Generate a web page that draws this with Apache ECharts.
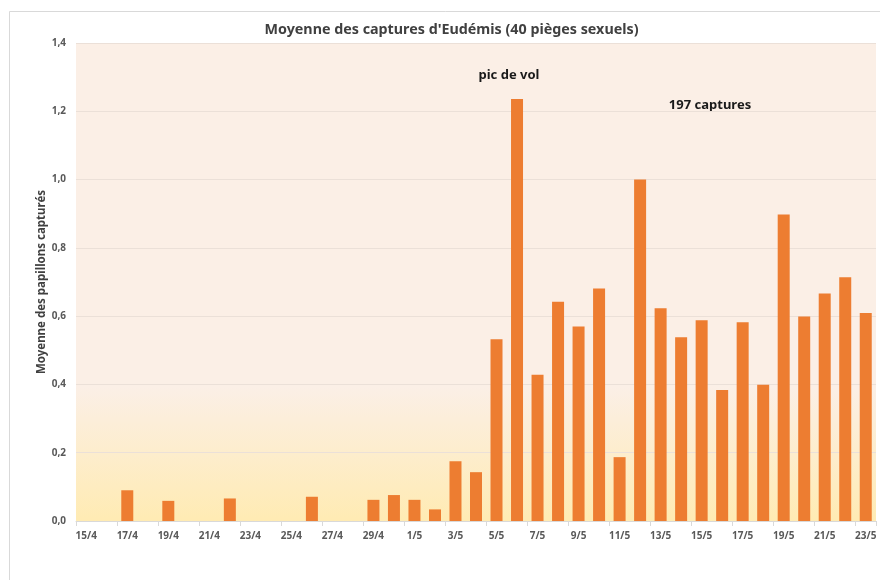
<!DOCTYPE html>
<html>
<head>
<meta charset="utf-8">
<script src="https://cdn.jsdelivr.net/npm/echarts@6/dist/echarts.min.js"></script>
<style>
html,body{margin:0;padding:0;background:#fff;}
#chart{width:880px;height:580px;}
</style>
</head>
<body>
<div id="chart"></div>
<script>
const categories = [
  '15/4','16/4','17/4','18/4','19/4','20/4','21/4','22/4','23/4','24/4','25/4','26/4','27/4','28/4','29/4','30/4',
  '1/5','2/5','3/5','4/5','5/5','6/5','7/5','8/5','9/5','10/5','11/5','12/5','13/5','14/5','15/5','16/5','17/5','18/5','19/5','20/5','21/5','22/5','23/5'
];
const moyenne = [
  0, 0, 0.090, 0, 0.059, 0, 0, 0.066, 0, 0, 0, 0.071, 0, 0, 0.062, 0.076,
  0.062, 0.034, 0.175, 0.143, 0.532, 1.236, 0.428, 0.642, 0.570, 0.681, 0.187, 1.0, 0.623, 0.538, 0.588, 0.384, 0.582, 0.399, 0.898, 0.599, 0.666, 0.714, 0.609
];
const yTicks = [0, 0.2, 0.4, 0.6, 0.8, 1.0, 1.2, 1.4];
const titleText = "Moyenne des captures d'Eudémis (40 pièges sexuels)";
const yAxisName = 'Moyenne des papillons capturés';
const annotations = ['pic de vol', '197 captures'];

const FONT = '"Noto Sans", "Open Sans", sans-serif';
const chart = echarts.init(document.getElementById('chart'), null, {renderer: 'canvas'});
chart.setOption({
  animation: false,
  backgroundColor: '#ffffff',
  grid: {
    left: 76, right: 4, top: 43, bottom: 59,
    show: true, borderWidth: 0,
    backgroundColor: new echarts.graphic.LinearGradient(0, 0, 0, 1, [
      {offset: 0, color: '#fbefe6'},
      {offset: 0.72, color: '#fbefe6'},
      {offset: 1, color: '#ffebb3'}
    ])
  },
  xAxis: {
    type: 'category',
    data: categories,
    boundaryGap: true,
    axisLine: {lineStyle: {color: '#d9d9d9', width: 1}},
    axisTick: {show: true, interval: 1, length: 5, lineStyle: {color: '#d9d9d9'}},
    axisLabel: {interval: 1, fontFamily: FONT, fontSize: 10, fontWeight: 'bold', color: '#595959', margin: 10}
  },
  yAxis: {
    type: 'value',
    min: 0, max: 1.4, interval: 0.2,
    name: yAxisName,
    nameLocation: 'middle',
    nameGap: 28,
    nameMoveOverlap: false,
    nameTextStyle: {fontFamily: FONT, fontSize: 11.5, fontWeight: 'bold', color: '#404040'},
    axisLine: {show: false},
    axisTick: {show: false},
    axisLabel: {
      fontFamily: FONT, fontSize: 10, fontWeight: 'bold', color: '#595959', margin: 10,
      formatter: v => v.toFixed(1).replace('.', ',')
    },
    splitLine: {lineStyle: {color: '#ebe0d8', width: 1}}
  },
  series: [{
    type: 'bar',
    data: moyenne,
    barWidth: 12,
    itemStyle: {color: '#ed7d31', borderWidth: 0}
  }],
  graphic: [
    {type: 'rect', left: 7, top: 9, shape: {width: 900, height: 600}, silent: true, z: -1,
     style: {fill: 'none', stroke: '#d9d9d9', lineWidth: 1}},
    {type: 'text', x: 451.5, y: 30, style: {text: titleText, fontFamily: FONT, fontSize: 14.3, fontWeight: 'bold', fill: '#404040', align: 'center', verticalAlign: 'middle'}},
    {type: 'text', x: 509, y: 75, style: {text: annotations[0], fontFamily: FONT, fontSize: 13, fontWeight: 'bold', fill: '#1a1a1a', align: 'center', verticalAlign: 'middle'}},
    {type: 'text', x: 710, y: 105, style: {text: annotations[1], fontFamily: FONT, fontSize: 13, fontWeight: 'bold', fill: '#1a1a1a', align: 'center', verticalAlign: 'middle'}}
  ]
});
</script>
</body>
</html>
